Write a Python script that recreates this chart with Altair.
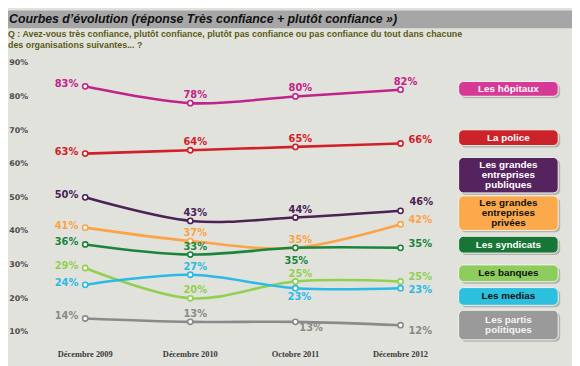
import altair as alt
import pandas as pd

# ---------------- data ----------------
periods = ["Décembre 2009", "Décembre 2010", "Octobre 2011", "Décembre 2012"]
series_names = [
    "Les hôpitaux",
    "La police",
    "Les grandes entreprises publiques",
    "Les grandes entreprises privées",
    "Les syndicats",
    "Les banques",
    "Les medias",
    "Les partis politiques",
]
hopitaux = [83, 78, 80, 82]
police = [63, 64, 65, 66]
ent_publiques = [50, 43, 44, 46]
ent_privees = [41, 37, 35, 42]
syndicats = [36, 33, 35, 35]
banques = [29, 20, 25, 25]
medias = [24, 27, 23, 23]
partis = [14, 13, 13, 12]
all_values = [hopitaux, police, ent_publiques, ent_privees, syndicats, banques, medias, partis]
y_ticks = [10, 20, 30, 40, 50, 60, 70, 80, 90]
legend_texts = [
    "Les hôpitaux",
    "La police",
    "Les grandes\nentreprises\npubliques",
    "Les grandes\nentreprises\nprivées",
    "Les syndicats",
    "Les banques",
    "Les medias",
    "Les partis\npolitiques",
]
title_text = "Courbes d\u2019évolution (réponse Très confiance + plutôt confiance »)"
question_lines = [
    "Q : Avez-vous très confiance, plutôt confiance, plutôt pas confiance ou pas confiance du tout dans chacune",
    " des organisations suivantes... ?",
]

# ---------------- styles ----------------
line_colors = ["#c0238b", "#d2202a", "#4b2256", "#fba346", "#1b843c", "#92d050", "#2bb9e6", "#8a8a8a"]
box_colors = ["#d63a96", "#cc2229", "#55245e", "#fba94a", "#177536", "#8dcd5b", "#2cc0de", "#9a9a9a"]
box_text_colors = ["#ffffff", "#ffffff", "#ffffff", "#111111", "#ffffff", "#111111", "#111111", "#f4f4f4"]
# legend box vertical extents in pixels (relative to plot top)
box_tops = [19, 68, 96, 135, 176, 205, 228, 251]
box_bottoms = [34, 84, 132, 170, 193, 222, 246, 281]
box_x0, box_x1 = 432, 533
LEG_LH = 10.5
# label placement codes per series and point
placements = [
    ["L", "A", "A", "A"],
    ["L", "A", "A", "R"],
    ["L", "A", "A", "AR"],
    ["L", "A", "A", "R"],
    ["L", "A", "B2", "R"],
    ["L", "A", "A", "R"],
    ["L", "A", "B", "RD"],
    ["L", "A", "BR2", "BR"],
]
place_style = {
    "L": dict(align="right", dx=-7, dy=-2),
    "A": dict(align="center", dx=5, dy=-8),
    "B": dict(align="center", dx=4, dy=9),
    "B2": dict(align="center", dx=1, dy=13),
    "R": dict(align="left", dx=8, dy=-4),
    "RD": dict(align="left", dx=8, dy=2),
    "AR": dict(align="left", dx=9, dy=-9),
    "BR": dict(align="left", dx=8, dy=6),
    "BR2": dict(align="left", dx=4, dy=6),
}
LABEL_FONT = "DejaVu Sans"
SANS = "Liberation Sans"
BG = "#e2e2dc"

# ---------------- frames ----------------
rows = []
for s, vals, places in zip(series_names, all_values, placements):
    for i, (p, v) in enumerate(zip(periods, vals)):
        rows.append({"series": s, "period": p, "idx": i, "value": v, "place": places[i]})
df = pd.DataFrame(rows)

legend_df = pd.DataFrame({
    "series": series_names,
    "text": legend_texts,
    "fill": box_colors,
    "tcolor": box_text_colors,
    "top": box_tops,
    "bottom": box_bottoms,
})
nlines = legend_df["text"].str.count("\n")
legend_df["ty"] = (legend_df["top"] + legend_df["bottom"]) / 2.0 - nlines * LEG_LH / 2.0
legend_df["stop"] = legend_df["top"] + 2
legend_df["sbottom"] = legend_df["bottom"] + 2

period_df = pd.DataFrame({"period": periods, "idx": list(range(len(periods)))})
one = pd.DataFrame({"a": [0]})

xscale = alt.Scale(domain=[-0.5, 4.5], nice=False, zero=False)
yscale = alt.Scale(domain=[10, 90], nice=False, zero=False)
cscale = alt.Scale(domain=series_names, range=line_colors)

X = alt.X("idx:Q", scale=xscale, axis=None)
yaxis = alt.Axis(
    values=y_ticks,
    labelExpr="datum.value + '%'",
    labelOverlap=False,
    labelFlush=False,
    domain=False,
    ticks=False,
    grid=False,
    labelPadding=5,
    labelFont=LABEL_FONT,
    labelFontWeight="bold",
    labelFontSize=8,
    labelColor="#4a4a4a",
    title=None,
)
Y = alt.Y("value:Q", scale=yscale, axis=yaxis)

base = alt.Chart(df)

lines = base.mark_line(interpolate="cardinal", strokeWidth=2.6).encode(
    x=X, y=Y, color=alt.Color("series:N", scale=cscale, legend=None), detail="series:N"
)
points = base.mark_point(filled=True, fill="white", shape="circle", size=28, strokeWidth=1.6, opacity=1).encode(
    x=X, y=Y, stroke=alt.Stroke("series:N", scale=cscale, legend=None)
)

label_layers = []
for code, st in place_style.items():
    label_layers.append(
        base.transform_filter(alt.datum.place == code)
        .transform_calculate(lab="datum.value + '%'")
        .mark_text(
            align=st["align"], baseline="middle", dx=st["dx"], dy=st["dy"],
            font=LABEL_FONT, fontWeight="bold", fontSize=10,
        )
        .encode(
            x=X, y=Y, text="lab:N",
            color=alt.Color("series:N", scale=cscale, legend=None),
        )
    )

xlabels = alt.Chart(period_df).mark_text(
    font="Liberation Serif", fontWeight="bold", fontSize=8.5, color="#3a3a3a", baseline="middle"
).encode(x=X, y=alt.value(295), text="period:N")

title_bar = alt.Chart(one).mark_rect(color="#a6a6a6").encode(
    x=alt.value(-25), x2=alt.value(547), y=alt.value(-53), y2=alt.value(-35)
)
title = alt.Chart(one).mark_text(
    text=title_text, align="left", baseline="middle", font=SANS, fontWeight="bold",
    fontStyle="italic", fontSize=12.5, color="#111111",
).encode(x=alt.value(-24), y=alt.value(-44))
q1 = alt.Chart(one).mark_text(
    text=question_lines[0], align="left", baseline="middle", font=SANS, fontWeight="bold",
    fontSize=9, color="#5b5b16",
).encode(x=alt.value(-25), y=alt.value(-29))
q2 = alt.Chart(one).mark_text(
    text=question_lines[1], align="left", baseline="middle", font=SANS, fontWeight="bold",
    fontSize=9, color="#5b5b16",
).encode(x=alt.value(-25), y=alt.value(-18))

leg = alt.Chart(legend_df)
box_shadow = leg.mark_rect(cornerRadius=5, color="#b4b4ae").encode(
    x=alt.value(box_x0 + 2), x2=alt.value(box_x1 + 2),
    y=alt.Y("stop:Q", scale=None), y2="sbottom:Q",
)
boxes = leg.mark_rect(cornerRadius=5, stroke="#f2f2f0", strokeWidth=1).encode(
    x=alt.value(box_x0), x2=alt.value(box_x1),
    y=alt.Y("top:Q", scale=None), y2="bottom:Q",
    fill=alt.Fill("fill:N", scale=None),
)
box_text = leg.mark_text(
    lineBreak="\n", align="center", baseline="middle", font=SANS, fontWeight="bold",
    fontSize=10, lineHeight=LEG_LH,
).encode(
    x=alt.value((box_x0 + box_x1) / 2), y=alt.Y("ty:Q", scale=None), text="text:N",
    color=alt.Color("tcolor:N", scale=None),
)

chart = alt.layer(
    title_bar, title, q1, q2, lines, points, *label_layers, xlabels, box_shadow, boxes, box_text
).properties(
    width=533,
    height=273,
    padding={"left": 25, "top": 53, "right": 14, "bottom": 32},
    autosize=alt.AutoSizeParams(type="none"),
).configure(background=BG).configure_view(strokeWidth=0)

chart.save("out.html", embed_options={"renderer": "svg", "actions": False})
